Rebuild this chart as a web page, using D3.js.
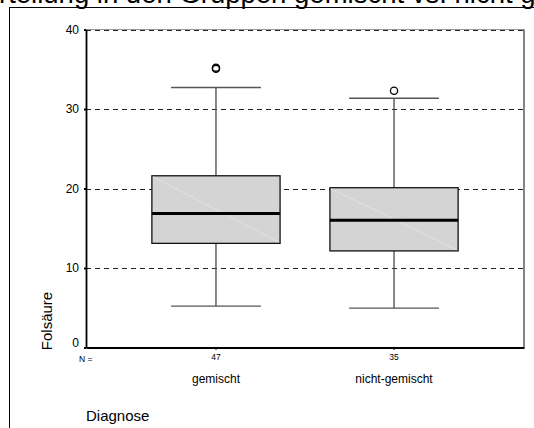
<!DOCTYPE html>
<html>
<head>
<meta charset="utf-8">
<script src="https://cdn.jsdelivr.net/npm/d3@7"></script>
<style>
  html, body { margin: 0; padding: 0; background: #fff; overflow: hidden; }
  svg { display: block; font-family: "Liberation Sans", Arial, sans-serif; }
</style>
</head>
<body>
<svg id="chart" width="534" height="428"></svg>
<script>
// Folsäure nach Diagnose – Boxplot (Median, Quartile, Whisker, Ausreißer)
const categories = ["gemischt", "nicht-gemischt"];
const counts = [47, 35];
const q1 = [13.1, 12.15];
const medians = [16.85, 16.0];
const q3 = [21.6, 20.1];
const whiskerLow = [5.2, 4.95];
const whiskerHigh = [32.7, 31.35];
const outliers = [[35.05, 35.2], [32.3]];
const yTicks = [0, 10, 20, 30, 40];
const gridValues = [10, 20, 30, 40];

const titleText = "Verteilung in den Gruppen gemischt vs. nicht gemischt";
const yTitle = "Folsäure";
const xTitle = "Diagnose";

const svg = d3.select("#chart");
const plot = { left: 86, right: 524, top: 29.5, bottom: 347.5 };

const y = d3.scaleLinear().domain([0, 40]).range([plot.bottom, plot.top]);
const x = d3.scaleBand()
  .domain(categories)
  .range([plot.left, plot.right])
  .paddingInner(0.28)
  .paddingOuter(0.37);

// Title (extends past the window edges)
const titleSize = 27.5;
const title = svg.append("text")
  .attr("y", 2.5)
  .attr("font-size", titleSize)
  .attr("fill", "#000")
  .text(titleText);
// place so the text starting at "rteilung" sits at the left edge
const tmp = svg.append("text").attr("font-size", titleSize).text("Ve");
const veWidth = tmp.node().getComputedTextLength();
tmp.remove();
title.attr("x", -veWidth - 1);

// Outer frame
svg.append("rect")
  .attr("x", 9.5).attr("y", 7.5)
  .attr("width", 700).attr("height", 600)
  .attr("fill", "none").attr("stroke", "#000").attr("stroke-width", 1);

// Gridlines
svg.append("line")
  .attr("x1", plot.left).attr("x2", plot.right)
  .attr("y1", y(40)).attr("y2", y(40))
  .attr("stroke", "#999").attr("stroke-width", 1);
svg.append("g").selectAll("line")
  .data(gridValues)
  .join("line")
  .attr("x1", plot.left).attr("x2", plot.right)
  .attr("y1", d => Math.round(y(d)) + 0.5).attr("y2", d => Math.round(y(d)) + 0.5)
  .attr("stroke", "#222").attr("stroke-width", 1)
  .attr("stroke-dasharray", "5,4");

// Right border of plot
svg.append("line")
  .attr("x1", plot.right).attr("x2", plot.right)
  .attr("y1", plot.top).attr("y2", plot.bottom)
  .attr("stroke", "#333").attr("stroke-width", 1.2);

// Boxes
const bw = x.bandwidth();
const capW = bw * 0.7;
const groups = svg.append("g").selectAll("g")
  .data(categories)
  .join("g");

groups.each(function(c, i) {
  const g = d3.select(this);
  const cx = x(c) + bw / 2;
  // whiskers
  g.append("line")
    .attr("x1", cx).attr("x2", cx)
    .attr("y1", y(q3[i])).attr("y2", y(whiskerHigh[i]))
    .attr("stroke", "#555").attr("stroke-width", 1.4);
  g.append("line")
    .attr("x1", cx).attr("x2", cx)
    .attr("y1", y(q1[i])).attr("y2", y(whiskerLow[i]))
    .attr("stroke", "#555").attr("stroke-width", 1.4);
  g.append("line")
    .attr("x1", cx - capW / 2).attr("x2", cx + capW / 2)
    .attr("y1", y(whiskerHigh[i])).attr("y2", y(whiskerHigh[i]))
    .attr("stroke", "#555").attr("stroke-width", 1.4);
  g.append("line")
    .attr("x1", cx - capW / 2).attr("x2", cx + capW / 2)
    .attr("y1", y(whiskerLow[i])).attr("y2", y(whiskerLow[i]))
    .attr("stroke", "#555").attr("stroke-width", 1.4);
  // box
  g.append("rect")
    .attr("x", x(c)).attr("width", bw)
    .attr("y", y(q3[i])).attr("height", y(q1[i]) - y(q3[i]))
    .attr("fill", "#d4d4d4").attr("stroke", "#111").attr("stroke-width", 1.3);
  // faint shading seam across the box
  g.append("line")
    .attr("x1", x(c) + 1).attr("x2", x(c) + bw - 1)
    .attr("y1", y(q3[i]) + 1).attr("y2", y(q1[i]) - 1)
    .attr("stroke", "#e4e4e4").attr("stroke-width", 0.8);
  // median
  g.append("line")
    .attr("x1", x(c)).attr("x2", x(c) + bw)
    .attr("y1", y(medians[i])).attr("y2", y(medians[i]))
    .attr("stroke", "#000").attr("stroke-width", 3);
  // outliers
  g.selectAll("circle")
    .data(outliers[i])
    .join("circle")
    .attr("cx", cx).attr("cy", d => y(d)).attr("r", 3.6)
    .attr("fill", "none").attr("stroke", "#000").attr("stroke-width", 1.3);
});

// Y axis
const yAxis = svg.append("g")
  .attr("transform", `translate(${plot.left},0)`)
  .call(d3.axisLeft(y).tickValues(yTicks).tickSize(2).tickSizeOuter(0).tickPadding(5));
yAxis.select(".domain").attr("stroke", "#000").attr("stroke-width", 1.8);
yAxis.selectAll(".tick line").attr("stroke", "#000").attr("stroke-width", 2);
yAxis.selectAll(".tick text")
  .attr("font-family", "Liberation Sans, Arial, sans-serif")
  .attr("font-size", 12).attr("fill", "#000");
yAxis.selectAll(".tick").filter(d => d === 0).select("text").attr("dy", "-0.05em");

// X axis with group sizes as tick labels
const countScale = d3.scaleOrdinal().domain(categories).range(counts);
const xAxis = svg.append("g")
  .attr("transform", `translate(0,${plot.bottom})`)
  .call(d3.axisBottom(x).tickSize(2).tickSizeOuter(0).tickPadding(4)
    .tickFormat(d => countScale(d)));
xAxis.select(".domain").attr("stroke", "#000").attr("stroke-width", 1.8);
xAxis.selectAll(".tick line").attr("stroke", "#000").attr("stroke-width", 2);
xAxis.selectAll(".tick text")
  .attr("font-family", "Liberation Sans, Arial, sans-serif")
  .attr("font-size", 8.5).attr("fill", "#000");

svg.append("text")
  .attr("x", 79).attr("y", 362)
  .attr("font-size", 8.5).attr("fill", "#000")
  .text("N =");

// Category labels
svg.append("g").selectAll("text")
  .data(categories)
  .join("text")
  .attr("x", d => x(d) + bw / 2).attr("y", 383)
  .attr("text-anchor", "middle")
  .attr("font-size", 12).attr("fill", "#000")
  .text(d => d);

// Axis titles
svg.append("text")
  .attr("transform", "translate(52,321) rotate(-90)")
  .attr("text-anchor", "middle")
  .attr("font-size", 15).attr("fill", "#000")
  .text(yTitle);

svg.append("text")
  .attr("x", 86).attr("y", 420.5)
  .attr("font-size", 15).attr("fill", "#000")
  .text(xTitle);
</script>
</body>
</html>
